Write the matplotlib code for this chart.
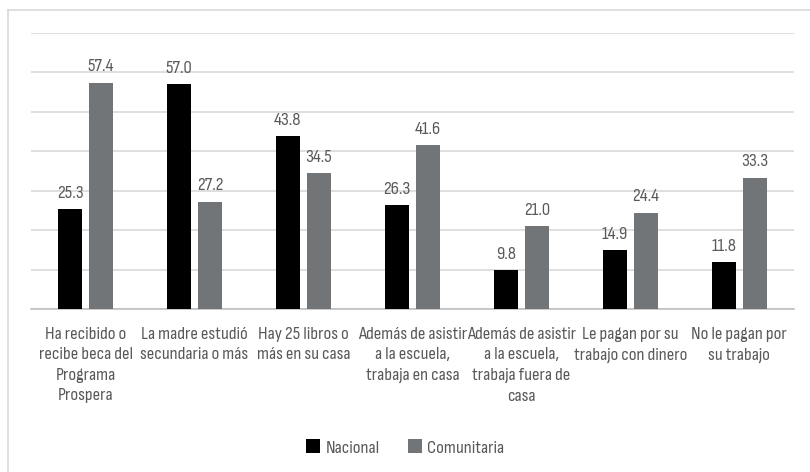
import numpy as np
import matplotlib.pyplot as plt
from matplotlib.lines import Line2D
from matplotlib import font_manager

# data
categories = [
    "Ha recibido o\nrecibe beca del\nPrograma\nProspera",
    "La madre estudió\nsecundaria o más",
    "Hay 25 libros o\nmás en su casa",
    "Además de asistir\na la escuela,\ntrabaja en casa",
    "Además de asistir\na la escuela,\ntrabaja fuera de\ncasa",
    "Le pagan por su\ntrabajo con dinero",
    "No le pagan por\nsu trabajo",
]
nacional = [25.3, 57.0, 43.8, 26.3, 9.8, 14.9, 11.8]
comunitaria = [57.4, 27.2, 34.5, 41.6, 21.0, 24.4, 33.3]

names = {f.name for f in font_manager.fontManager.ttflist}
fam = 'Sofia Sans Condensed' if 'Sofia Sans Condensed' in names else 'Roboto Condensed'
plt.rcParams['font.family'] = [fam, 'DejaVu Sans']

txt_color = '#595959'
c_nac = '#000000'
c_com = '#727578'
fs = 13.5

fig = plt.figure(figsize=(8.1, 4.72), dpi=100)
ax = fig.add_axes([0.0383, 0.3453, 0.9417, 0.5847])

x = np.arange(len(categories))
w = 0.22
off = 0.142
b1 = ax.bar(x - off, nacional, w, color=c_nac, label='Nacional', zorder=3)
b2 = ax.bar(x + off, comunitaria, w, color=c_com, label='Comunitaria', zorder=3)

for bars, vals in [(b1, nacional), (b2, comunitaria)]:
    for b, v in zip(bars, vals):
        ax.annotate(f"{v:.1f}", (b.get_x() + b.get_width() / 2, v),
                    xytext=(0, 6), textcoords='offset points',
                    ha='center', va='bottom', fontsize=fs, color=txt_color)

ax.set_xlim(-0.5, len(categories) - 0.5)
ax.set_ylim(0, 70)
ax.set_yticks(np.arange(0, 71, 10))
ax.set_yticklabels([])
ax.tick_params(axis='both', length=0)
ax.grid(axis='y', color='#d9d9d9', linewidth=1.2, zorder=0)
for s in ['left', 'right', 'top']:
    ax.spines[s].set_visible(False)
ax.spines['bottom'].set_color('#bfbfbf')
ax.spines['bottom'].set_linewidth(1.2)

ax.set_xticks(x)
ax.set_xticklabels(categories, fontsize=fs, color=txt_color, linespacing=1.45)
ax.tick_params(axis='x', pad=13)

fig.legend(handles=[b1, b2], loc='center', bbox_to_anchor=(0.5, 0.052),
           ncol=2, frameon=False, fontsize=fs, labelcolor=txt_color,
           handlelength=0.75, handleheight=0.75, handletextpad=0.3, columnspacing=1.5)

# light frame around chart
fig.add_artist(Line2D([0.0099, 0.0099], [0, 0.979], color='#d9d9d9', lw=1.2,
                      transform=fig.transFigure))
fig.add_artist(Line2D([0.0099, 1.0], [0.979, 0.979], color='#d9d9d9', lw=1.2,
                      transform=fig.transFigure))

fig.savefig('out.png', dpi=100)
